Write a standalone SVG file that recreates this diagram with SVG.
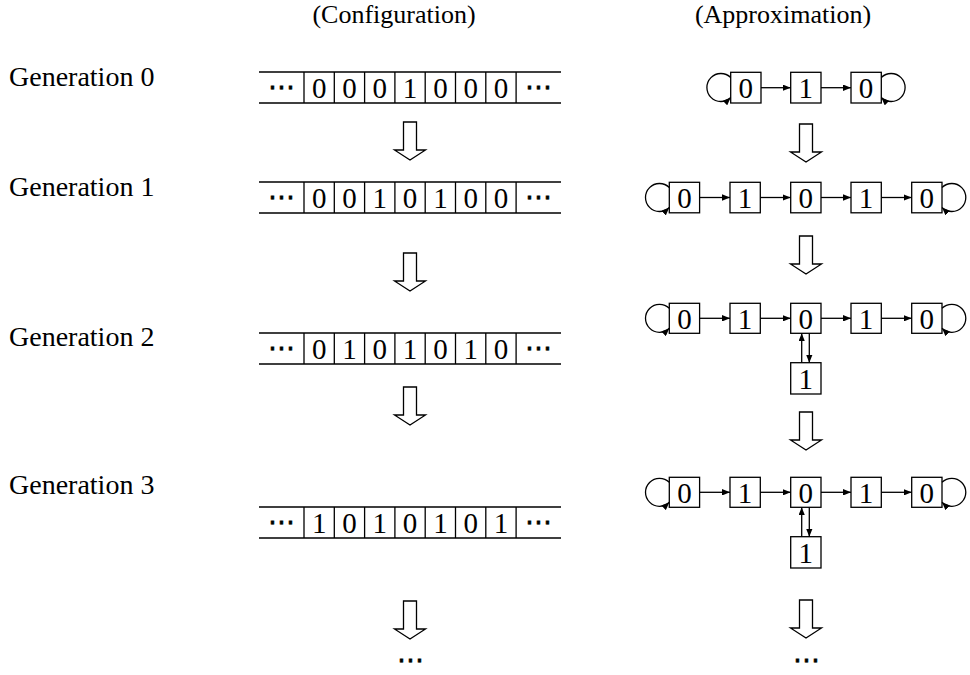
<svg xmlns="http://www.w3.org/2000/svg" width="970" height="675" viewBox="0 0 970 675">
  <defs>
    <style>
      .lbl { font-family: "Liberation Serif", "Times New Roman", serif; font-size: 28px; fill: #000; }
      .hdr { font-family: "Liberation Serif", "Times New Roman", serif; font-size: 26px; fill: #000; text-anchor: middle; }
      .dig { font-family: "Liberation Serif", "Times New Roman", serif; font-size: 29px; fill: #000; text-anchor: middle; }
      .dots { font-family: "DejaVu Sans", sans-serif; font-size: 27px; fill: #000; stroke: #000; stroke-width: 0.6; text-anchor: middle; }
      .ln { stroke: #000; stroke-width: 1.3; fill: none; }
      .box { stroke: #000; stroke-width: 1.3; fill: #fff; }
      .edge { stroke: #000; stroke-width: 1.3; fill: none; marker-end: url(#tip); }
      .big { stroke: #000; stroke-width: 1.3; fill: #fff; stroke-linejoin: miter; }
    </style>
    <marker id="tip" viewBox="0 0 10 8" refX="10" refY="4" markerWidth="8" markerHeight="6.4" markerUnits="userSpaceOnUse" orient="auto">
      <path d="M0,0 L10,4 L0,8 Z" fill="#000"/>
    </marker>
    <!-- hollow downward arrow, top-centre at origin -->
    <polygon id="down" points="-6.5,0 6.5,0 6.5,28 15.5,28 0,38 -15.5,28 -6.5,28"/>
  </defs>

  <rect width="970" height="675" fill="#fff"/>

  <!-- column headings -->
  <text class="hdr" x="394" y="23">(Configuration)</text>
  <text class="hdr" x="783" y="23">(Approximation)</text>

  <!-- generation labels -->
  <text class="lbl" x="9" y="86">Generation 0</text>
  <text class="lbl" x="9" y="196">Generation 1</text>
  <text class="lbl" x="9" y="346">Generation 2</text>
  <text class="lbl" x="9" y="494">Generation 3</text>

  <!-- tape, generation 0 -->
  <g id="tape0" transform="translate(0,72)">
    <path class="ln" d="M259,0 H561 M259,31 H561 M304,0 V31 M334.3,0 V31 M364.6,0 V31 M394.9,0 V31 M425.2,0 V31 M455.5,0 V31 M485.8,0 V31 M516.1,0 V31"/>
    <text class="dots" x="281.5" y="24">⋯</text>
    <text class="dots" x="538.5" y="24">⋯</text>
    <text class="dig" x="319.2" y="26">0</text>
    <text class="dig" x="349.5" y="26">0</text>
    <text class="dig" x="379.8" y="26">0</text>
    <text class="dig" x="410.1" y="26">1</text>
    <text class="dig" x="440.4" y="26">0</text>
    <text class="dig" x="470.7" y="26">0</text>
    <text class="dig" x="501" y="26">0</text>
  </g>

  <!-- tape, generation 1 -->
  <g id="tape1" transform="translate(0,182)">
    <path class="ln" d="M259,0 H561 M259,31 H561 M304,0 V31 M334.3,0 V31 M364.6,0 V31 M394.9,0 V31 M425.2,0 V31 M455.5,0 V31 M485.8,0 V31 M516.1,0 V31"/>
    <text class="dots" x="281.5" y="24">⋯</text>
    <text class="dots" x="538.5" y="24">⋯</text>
    <text class="dig" x="319.2" y="26">0</text>
    <text class="dig" x="349.5" y="26">0</text>
    <text class="dig" x="379.8" y="26">1</text>
    <text class="dig" x="410.1" y="26">0</text>
    <text class="dig" x="440.4" y="26">1</text>
    <text class="dig" x="470.7" y="26">0</text>
    <text class="dig" x="501" y="26">0</text>
  </g>

  <!-- tape, generation 2 -->
  <g id="tape2" transform="translate(0,333)">
    <path class="ln" d="M259,0 H561 M259,31 H561 M304,0 V31 M334.3,0 V31 M364.6,0 V31 M394.9,0 V31 M425.2,0 V31 M455.5,0 V31 M485.8,0 V31 M516.1,0 V31"/>
    <text class="dots" x="281.5" y="24">⋯</text>
    <text class="dots" x="538.5" y="24">⋯</text>
    <text class="dig" x="319.2" y="26">0</text>
    <text class="dig" x="349.5" y="26">1</text>
    <text class="dig" x="379.8" y="26">0</text>
    <text class="dig" x="410.1" y="26">1</text>
    <text class="dig" x="440.4" y="26">0</text>
    <text class="dig" x="470.7" y="26">1</text>
    <text class="dig" x="501" y="26">0</text>
  </g>

  <!-- tape, generation 3 -->
  <g id="tape3" transform="translate(0,507)">
    <path class="ln" d="M259,0 H561 M259,31 H561 M304,0 V31 M334.3,0 V31 M364.6,0 V31 M394.9,0 V31 M425.2,0 V31 M455.5,0 V31 M485.8,0 V31 M516.1,0 V31"/>
    <text class="dots" x="281.5" y="24">⋯</text>
    <text class="dots" x="538.5" y="24">⋯</text>
    <text class="dig" x="319.2" y="26">1</text>
    <text class="dig" x="349.5" y="26">0</text>
    <text class="dig" x="379.8" y="26">1</text>
    <text class="dig" x="410.1" y="26">0</text>
    <text class="dig" x="440.4" y="26">1</text>
    <text class="dig" x="470.7" y="26">0</text>
    <text class="dig" x="501" y="26">1</text>
  </g>

  <!-- step arrows between generations -->
  <g id="steps" class="big">
    <use href="#down" x="410" y="122"/>
    <use href="#down" x="410" y="253"/>
    <use href="#down" x="410" y="387"/>
    <use href="#down" x="410" y="601"/>
    <use href="#down" x="806" y="124"/>
    <use href="#down" x="806" y="236"/>
    <use href="#down" x="806" y="412"/>
    <use href="#down" x="806" y="600"/>
  </g>
  <text class="dots" x="410.5" y="669">⋯</text>
  <text class="dots" x="806.5" y="669">⋯</text>

  <!-- approximation graph, generation 0 -->
  <g id="graph0">
    <g id="g0n0"><rect class="box" x="730.7" y="72.3" width="30.3" height="30.7"/><text class="dig" x="745.8" y="98">0</text></g>
    <g id="g0n1"><rect class="box" x="790.7" y="72.3" width="30.3" height="30.7"/><text class="dig" x="805.8" y="98">1</text></g>
    <g id="g0n2"><rect class="box" x="851" y="72.3" width="30.3" height="30.7"/><text class="dig" x="866.1" y="98">0</text></g>
    <g id="g0edges">
      <path class="edge" d="M730.7,77.5 A14,14 0 1 0 730.7,97.5"/>
      <path class="edge" d="M761,87.7 H790.7"/>
      <path class="edge" d="M821,87.7 H851"/>
      <path class="edge" d="M881.3,77.5 A14,14 0 1 1 881.3,97.5"/>
    </g>
  </g>

  <!-- approximation graph, generation 1 -->
  <g id="graph1">
    <g id="g1n0"><rect class="box" x="669.3" y="182.3" width="30.3" height="30.5"/><text class="dig" x="684.4" y="208">0</text></g>
    <g id="g1n1"><rect class="box" x="730" y="182.3" width="30.3" height="30.5"/><text class="dig" x="745.1" y="208">1</text></g>
    <g id="g1n2"><rect class="box" x="790.7" y="182.3" width="30.3" height="30.5"/><text class="dig" x="805.8" y="208">0</text></g>
    <g id="g1n3"><rect class="box" x="851" y="182.3" width="30.3" height="30.5"/><text class="dig" x="866.1" y="208">1</text></g>
    <g id="g1n4"><rect class="box" x="911.7" y="182.3" width="30.3" height="30.5"/><text class="dig" x="926.8" y="208">0</text></g>
    <g id="g1edges">
      <path class="edge" d="M669.3,187.5 A14,14 0 1 0 669.3,207.5"/>
      <path class="edge" d="M699.6,197.5 H730"/>
      <path class="edge" d="M760.3,197.5 H790.7"/>
      <path class="edge" d="M821,197.5 H851"/>
      <path class="edge" d="M881.3,197.5 H911.7"/>
      <path class="edge" d="M942,187.5 A14,14 0 1 1 942,207.5"/>
    </g>
  </g>

  <!-- approximation graph, generation 2 -->
  <g id="graph2">
    <g id="g2n0"><rect class="box" x="669.3" y="303.3" width="30.3" height="30"/><text class="dig" x="684.4" y="328.5">0</text></g>
    <g id="g2n1"><rect class="box" x="730" y="303.3" width="30.3" height="30"/><text class="dig" x="745.1" y="328.5">1</text></g>
    <g id="g2n2"><rect class="box" x="790.7" y="303.3" width="30.3" height="30"/><text class="dig" x="805.8" y="328.5">0</text></g>
    <g id="g2n3"><rect class="box" x="851" y="303.3" width="30.3" height="30"/><text class="dig" x="866.1" y="328.5">1</text></g>
    <g id="g2n4"><rect class="box" x="911.7" y="303.3" width="30.3" height="30"/><text class="dig" x="926.8" y="328.5">0</text></g>
    <g id="g2n5"><rect class="box" x="790.7" y="362.7" width="30.3" height="31.3"/><text class="dig" x="805.8" y="388.5">1</text></g>
    <g id="g2edges">
      <path class="edge" d="M669.3,308.3 A14,14 0 1 0 669.3,328.3"/>
      <path class="edge" d="M699.6,318.3 H730"/>
      <path class="edge" d="M760.3,318.3 H790.7"/>
      <path class="edge" d="M821,318.3 H851"/>
      <path class="edge" d="M881.3,318.3 H911.7"/>
      <path class="edge" d="M942,308.3 A14,14 0 1 1 942,328.3"/>
      <path class="edge" d="M801.7,362.7 V333.3"/>
      <path class="edge" d="M809.3,333.3 V362.7"/>
    </g>
  </g>

  <!-- approximation graph, generation 3 -->
  <g id="graph3">
    <g id="g3n0"><rect class="box" x="669.3" y="477.3" width="30.3" height="30"/><text class="dig" x="684.4" y="502.5">0</text></g>
    <g id="g3n1"><rect class="box" x="730" y="477.3" width="30.3" height="30"/><text class="dig" x="745.1" y="502.5">1</text></g>
    <g id="g3n2"><rect class="box" x="790.7" y="477.3" width="30.3" height="30"/><text class="dig" x="805.8" y="502.5">0</text></g>
    <g id="g3n3"><rect class="box" x="851" y="477.3" width="30.3" height="30"/><text class="dig" x="866.1" y="502.5">1</text></g>
    <g id="g3n4"><rect class="box" x="911.7" y="477.3" width="30.3" height="30"/><text class="dig" x="926.8" y="502.5">0</text></g>
    <g id="g3n5"><rect class="box" x="790.7" y="536.7" width="30.3" height="31.3"/><text class="dig" x="805.8" y="562.5">1</text></g>
    <g id="g3edges">
      <path class="edge" d="M669.3,482.3 A14,14 0 1 0 669.3,502.3"/>
      <path class="edge" d="M699.6,492.3 H730"/>
      <path class="edge" d="M760.3,492.3 H790.7"/>
      <path class="edge" d="M821,492.3 H851"/>
      <path class="edge" d="M881.3,492.3 H911.7"/>
      <path class="edge" d="M942,482.3 A14,14 0 1 1 942,502.3"/>
      <path class="edge" d="M801.7,536.7 V507.3"/>
      <path class="edge" d="M809.3,507.3 V536.7"/>
    </g>
  </g>
</svg>
